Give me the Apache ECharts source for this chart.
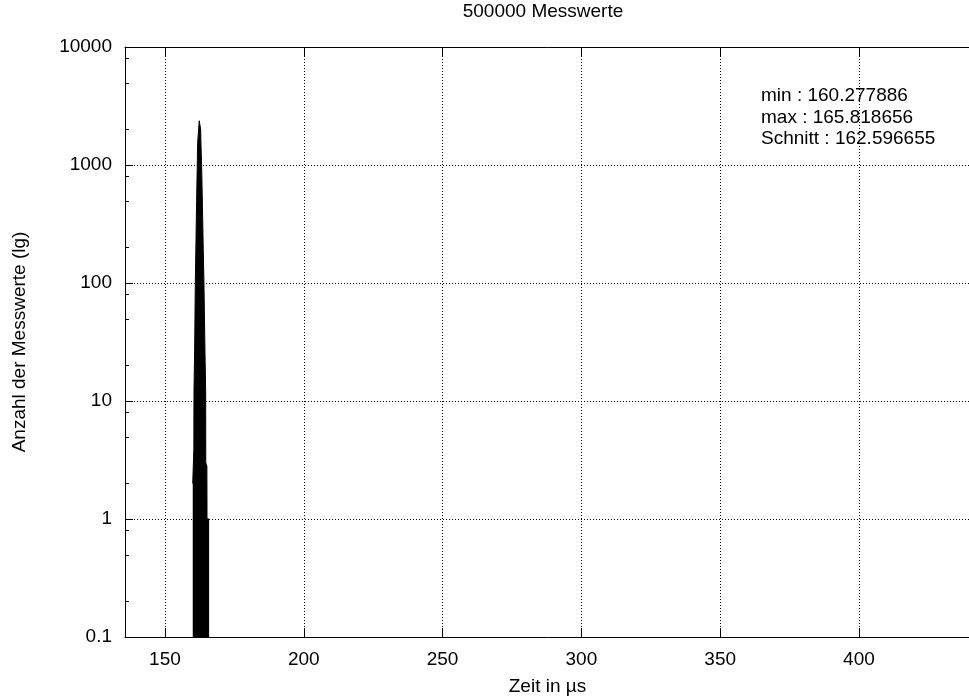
<!DOCTYPE html>
<html>
<head>
<meta charset="utf-8">
<script src="https://cdn.jsdelivr.net/npm/echarts@6/dist/echarts.min.js"></script>
<style>
  html, body { margin: 0; padding: 0; background: #fff; }
  #chart { width: 969px; height: 697px; }
</style>
</head>
<body>
<div id="chart"></div>
<script>
// Messzeiten (µs) und Anzahl je Messzeit
const binTimes = [160.0, 160.4, 160.45, 160.69, 160.91, 161.16, 161.4, 161.63, 161.77, 162.34,
  162.86, 162.96, 163.2, 163.5, 163.79, 164.04, 164.4, 164.66, 164.7, 165.1, 165.15, 165.9];
const binCounts = [2.0, 3.9, 12, 27, 90, 220, 500, 1000, 1535, 2370,
  2000, 1535, 1000, 450, 190, 100, 27, 12, 3, 2.8, 1, 1];

// Nebenstriche der log-Achse (2, 5, 8 je Dekade)
const minorTickValues = [0.2, 0.5, 0.8, 2, 5, 8, 20, 50, 80, 200, 500, 800, 2000, 5000, 8000];

const statLines = ["min : 160.277886", "max : 165.818656", "Schnitt : 162.596655"];

const X_MIN = 135.6;
const X_MAX = 440;
const FONT = "Liberation Sans, Arial, sans-serif";

const chart = echarts.init(document.getElementById("chart"));

const dotted = { color: "#000", width: 1, type: [1, 2] };

const option = {
  animation: false,
  backgroundColor: "#fff",
  textStyle: { fontFamily: FONT, color: "#000" },
  grid: {
    left: 125, top: 47, width: 845, height: 590,
    containLabel: false, outerBoundsMode: "none"
  },
  xAxis: [
    {
      type: "value",
      position: "bottom",
      min: X_MIN,
      max: X_MAX,
      splitNumber: 5,
      axisLine: { lineStyle: { color: "#000", width: 1 } },
      axisTick: { inside: true, length: 9, lineStyle: { color: "#000" } },
      axisLabel: {
        color: "#000", fontSize: 19, fontFamily: FONT, margin: 13,
        showMinLabel: false, showMaxLabel: false
      },
      splitLine: { show: true, lineStyle: dotted },
      name: "Zeit in µs",
      nameLocation: "middle",
      nameGap: 40,
      nameTextStyle: { color: "#000", fontSize: 19, fontFamily: FONT }
    },
    {
      type: "value",
      position: "top",
      min: X_MIN,
      max: X_MAX,
      splitNumber: 5,
      axisLine: { lineStyle: { color: "#000", width: 1 } },
      axisTick: { inside: true, length: 9, lineStyle: { color: "#000" } },
      axisLabel: { show: false },
      splitLine: { show: false }
    }
  ],
  yAxis: {
    type: "log",
    logBase: 10,
    min: 0.1,
    max: 10000,
    axisLine: { show: true, lineStyle: { color: "#000", width: 1 } },
    axisTick: { show: true, inside: true, length: 8, lineStyle: { color: "#000" } },
    axisLabel: {
      color: "#000", fontSize: 19, fontFamily: FONT, margin: 13,
      formatter: (v) => String(+v.toPrecision(6))
    },
    splitLine: { show: true, lineStyle: dotted },
    name: "Anzahl der Messwerte (lg)",
    nameLocation: "middle",
    nameGap: 96,
    nameRotate: 90,
    nameTextStyle: { color: "#000", fontSize: 19, fontFamily: FONT }
  },
  graphic: [
    {
      type: "text",
      x: 543,
      y: 2,
      style: {
        text: "500000 Messwerte",
        fontSize: 19, fontFamily: FONT, fill: "#000",
        textAlign: "center", textVerticalAlign: "top"
      }
    },
    {
      type: "text",
      x: 761,
      y: 85,
      style: {
        text: statLines.join("\n"),
        fontSize: 19, fontFamily: FONT, fill: "#000",
        lineHeight: 21.6, textVerticalAlign: "top"
      }
    }
  ],
  series: [
    {
      type: "line",
      data: binTimes.map((t, i) => [t, binCounts[i]]),
      showSymbol: false,
      lineStyle: { color: "#000", width: 1 },
      areaStyle: { color: "#000", opacity: 1, origin: "start" },
      z: 3
    },
    {
      type: "custom",
      silent: true,
      data: minorTickValues.map((v) => [X_MIN, v]),
      renderItem: (params, api) => {
        const p = api.coord([api.value(0), api.value(1)]);
        return {
          type: "line",
          shape: { x1: p[0], y1: Math.round(p[1]) + 0.5, x2: p[0] + 4, y2: Math.round(p[1]) + 0.5 },
          style: { stroke: "#000", lineWidth: 1 }
        };
      },
      z: 4
    }
  ]
};

chart.setOption(option);
</script>
</body>
</html>
